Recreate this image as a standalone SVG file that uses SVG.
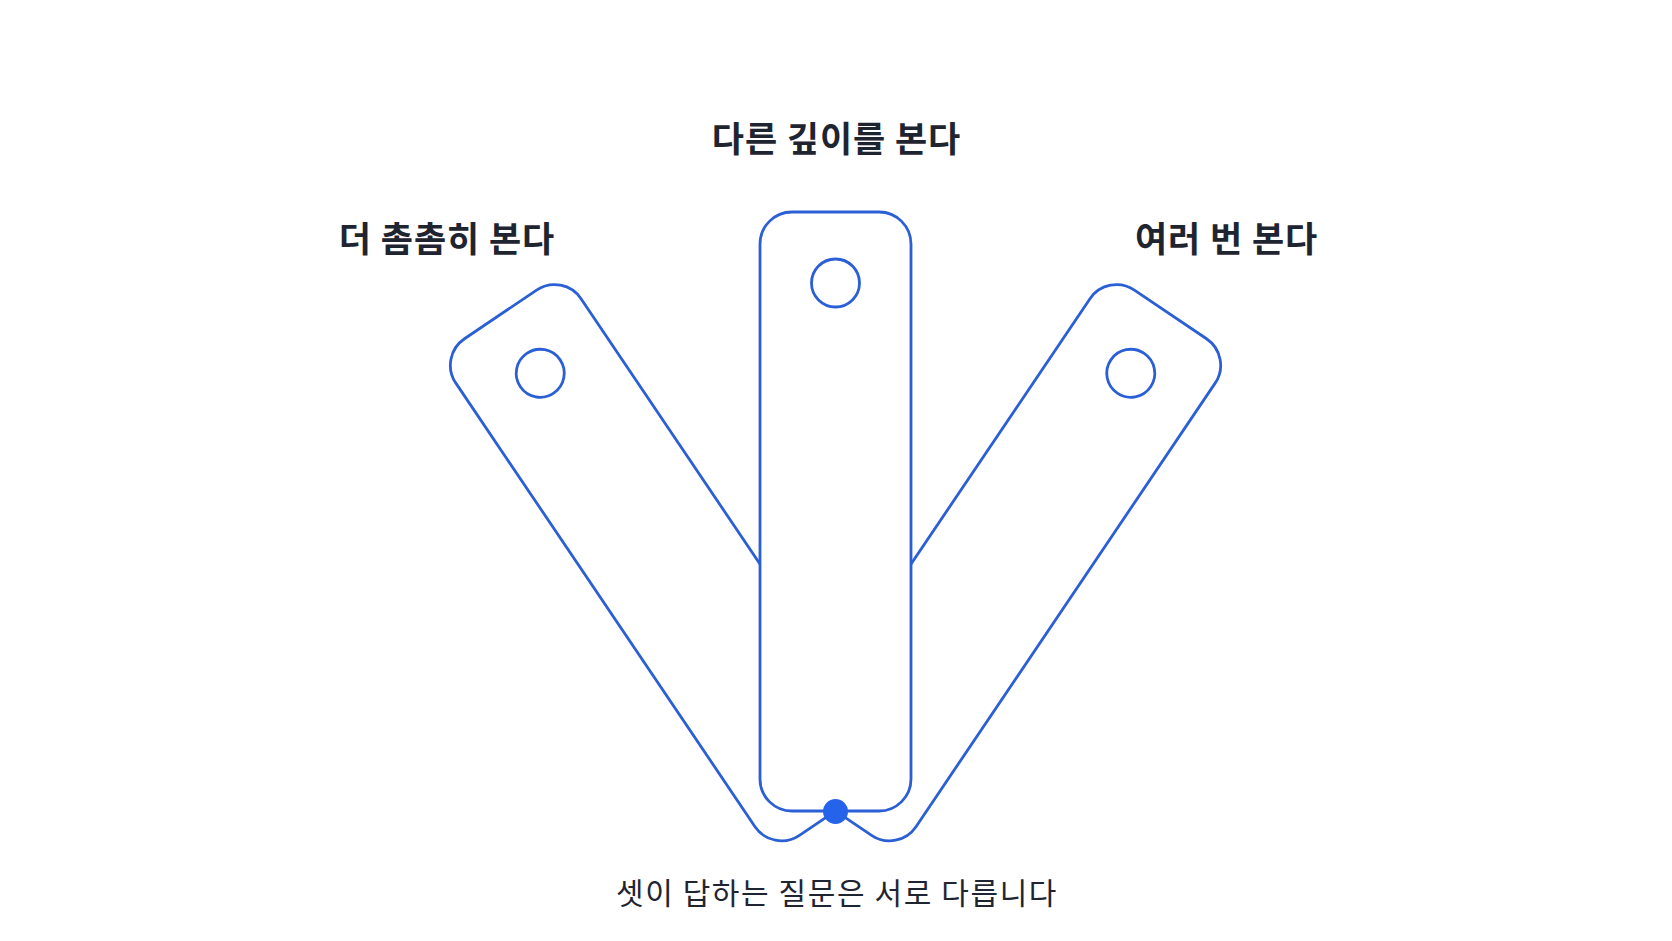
<svg xmlns="http://www.w3.org/2000/svg" width="1672" height="941" viewBox="0 0 1672 941">
<style>
.panel{fill:#ffffff;stroke:#2b5fd6;stroke-width:2.8}
.hole{fill:#ffffff;stroke:#2b5fd6;stroke-width:2.8}
.title{font-family:"Noto Sans CJK KR","Noto Sans",sans-serif;font-weight:700;font-size:35px;letter-spacing:0.9px;fill:#1f2530;text-anchor:middle}
.caption{font-family:"Noto Sans CJK KR","Noto Sans",sans-serif;font-weight:400;font-size:30px;letter-spacing:1.6px;fill:#1f2530;text-anchor:middle}
</style>
<rect width="1672" height="941" fill="#ffffff"/>
<g id="panel-left" transform="rotate(-34 835.5 811)">
<rect class="panel" x="760" y="212" width="151" height="599" rx="32"/>
<circle class="hole" cx="835.5" cy="283" r="24"/>
</g>
<g id="panel-right" transform="rotate(34 835.5 811)">
<rect class="panel" x="760" y="212" width="151" height="599" rx="32"/>
<circle class="hole" cx="835.5" cy="283" r="24"/>
</g>
<g id="panel-center">
<rect class="panel" x="760" y="212" width="151" height="599" rx="32"/>
<circle class="hole" cx="835.5" cy="283" r="24"/>
</g>
<g id="pivot">
<circle cx="835.5" cy="811.5" r="12.5" fill="#2563eb"/>
</g>
<g id="labels">
<text class="title" x="836.5" y="152">다른 깊이를 본다</text>
<text class="title" x="447" y="252">더 촘촘히 본다</text>
<text class="title" x="1226.5" y="252">여러 번 본다</text>
<text class="caption" x="837" y="904">셋이 답하는 질문은 서로 다릅니다</text>
</g>
</svg>
